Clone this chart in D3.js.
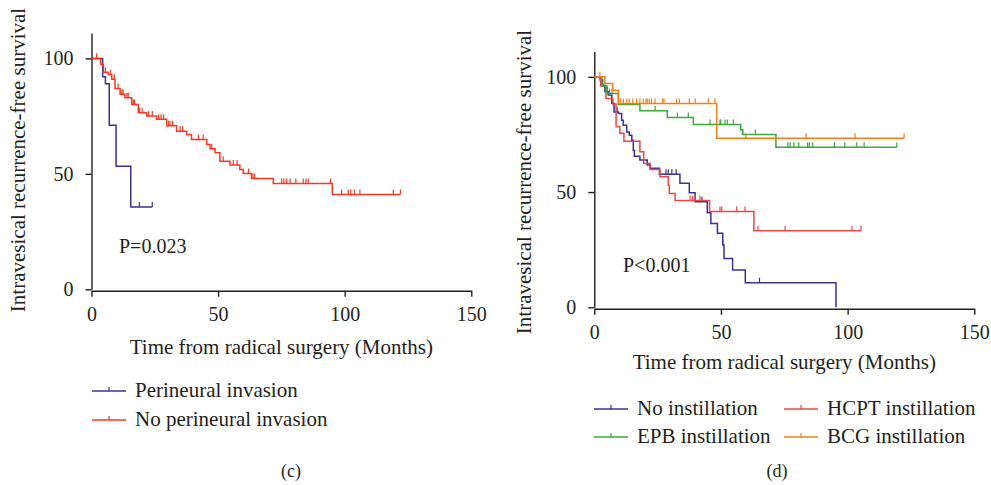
<!DOCTYPE html>
<html>
<head>
<meta charset="utf-8">
<script src="https://cdn.jsdelivr.net/npm/d3@7"></script>
<style>
  body { margin: 0; background: #fff; }
  svg text { font-family: "Liberation Serif", "Times New Roman", serif; fill: #231f20; }
</style>
</head>
<body>
<svg width="991" height="485"></svg>
<script>
// Data
const xTicks = [0, 50, 100, 150];
const yTicks = [0, 50, 100];

// panel (c)
const perineuralTimes = [4.4, 5.5, 7, 9.7, 15.5];
const perineuralSurv = [92, 89, 71, 53.3, 35.6];
const perineuralEnd = 24;
const perineuralCensor = [18.9, 24];

const noPerineuralTimes = [3.6, 4.7, 6.6, 8, 9.3, 11.3, 13.2, 15.9, 18.5, 21.8, 25.7, 29.7, 33.6, 37.6, 39.5, 45.5, 46.8, 48.8, 50.7, 54.7, 58.6, 59.9, 63.2, 71.8, 95.1];
const noPerineuralSurv = [97.5, 94, 93, 91, 87, 84.5, 83, 80, 76.5, 75, 73.6, 70.8, 68.5, 67, 64.9, 62.7, 60.9, 59.1, 55.5, 53.8, 51.9, 50.1, 48, 45.8, 41.1];
const noPerineuralEnd = 122;
const noPerineuralCensor = [2, 5.5, 7.5, 9, 10.5, 12, 12.5, 14, 14.5, 16.5, 17, 19, 20, 22.5, 24, 26.5, 27.5, 28.5, 30.5, 31, 32, 35, 36, 42.2, 44.1, 47.5, 52, 56, 57.5, 62, 63.8, 64.5, 75.1, 76, 77.1, 78.4, 80.7, 83.6, 84.7, 85.6, 94.4, 98.8, 101.4, 102.4, 103.8, 106, 119.2, 122];

// panel (d)
const noInstTimes = [2.3, 3.3, 4.2, 5.5, 6.9, 7.8, 9.5, 10.8, 11.4, 12.8, 13.8, 14.8, 15.4, 15.8, 18, 20.9, 22, 25.7, 33.8, 37.5, 39.8, 44.6, 46, 48.6, 50.7, 51.2, 54.6, 59.6, 95.4];
const noInstSurv = [98.6, 96.4, 93.5, 92.1, 88.5, 84.8, 84.1, 81.2, 79, 76.1, 74.7, 72.5, 68.2, 65.6, 63.9, 61.7, 60.3, 57.7, 53.8, 49.7, 45.8, 41, 36.4, 32.1, 27, 21.2, 16.2, 10.7, 0];
const noInstEnd = 95.4;
const noInstCensor = [4.5, 5, 9, 21, 28.3, 29.2, 30.6, 32.3, 42.5, 50.7, 65.2];

const hcptTimes = [2.5, 4.6, 7.3, 8.6, 10.1, 11.7, 18, 19.5, 22, 25.9, 29.2, 29.6, 31.9, 45.5, 63];
const hcptSurv = [96, 90.6, 88.2, 78.3, 75.5, 72.1, 67.5, 62.4, 59.8, 56.6, 53, 49.4, 46.3, 41.6, 33.2];
const hcptEnd = 105.3;
const hcptCensor = [37.8, 38.8, 39.8, 41.7, 49.6, 50.3, 56.2, 59.5, 64.6, 75.3, 101.7, 105.3];

const epbTimes = [3, 5, 9.5, 18, 28.8, 39.1, 57.8, 58.5, 71.7];
const epbSurv = [96, 92.8, 88, 85.3, 82.4, 79.3, 77, 75, 69.5];
const epbEnd = 119.4;
const epbCensor = [6, 7, 24, 32.8, 37.1, 45.7, 49.6, 49.9, 51.6, 52.5, 54.9, 58.6, 63.6, 76.4, 77.3, 78.8, 80.7, 84.2, 84.9, 86.2, 94.8, 98.9, 103.6, 106.5, 119.4];

const bcgTimes = [4.2, 7.3, 9.5, 48.3];
const bcgSurv = [97.1, 94.2, 88.4, 73.4];
const bcgEnd = 122.3;
const bcgCensor = [2.2, 10.4, 11.5, 12.8, 13.8, 15.2, 16.7, 18, 19.3, 20.4, 20.9, 21.7, 22.6, 24, 27, 27.5, 32.5, 33.6, 37.5, 39.8, 45, 47.6, 59.8, 83.6, 102.9, 122.3];

const colNavy = "#3b3190";
const colRedC = "#ee3a26";
const colRedD = "#e84848";
const colGreen = "#3aaa3a";
const colOrange = "#f08019";

const yLabel = "Intravesical recurrence-free survival";
const xLabel = "Time from radical surgery (Months)";

let svg = d3.select("svg");

function makePanel(cfg) {
  let xScale = d3.scaleLinear().domain([0, 150]).range([cfg.x0, cfg.x1]);
  let yScale = d3.scaleLinear().domain([0, 111]).range([cfg.y0, cfg.yTop]);
  let g = svg.append("g");

  // axes
  let xAxis = d3.axisBottom(xScale).tickValues(xTicks).tickSize(6).tickSizeOuter(0).tickPadding(6);
  let gx = g.append("g")
    .attr("transform", "translate(0," + (cfg.y0 + 1.5) + ")")
    .call(xAxis);
  let yAxis = d3.axisLeft(yScale).tickValues(yTicks).tickSize(6).tickSizeOuter(0).tickPadding(12);
  let gy = g.append("g")
    .attr("transform", "translate(" + cfg.x0 + ",0)")
    .call(yAxis);
  [gx, gy].forEach(a => {
    a.select(".domain").attr("stroke", "#231f20").attr("stroke-width", 1.4);
    a.selectAll(".tick line").attr("stroke", "#231f20").attr("stroke-width", 1.4);
    a.selectAll(".tick text").attr("font-size", 20).attr("fill", "#231f20")
      .style("font-family", "Liberation Serif, serif");
  });
  gx.selectAll(".tick text").attr("dy", "0.9em");

  // curves
  let line = d3.line()
    .x(d => xScale(d[0]))
    .y(d => yScale(d[1]))
    .curve(d3.curveStepAfter);

  cfg.series.forEach(s => {
    let pts = [[0, 100]];
    s.times.forEach((t, i) => pts.push([t, s.surv[i]]));
    pts.push([s.end, s.surv[s.surv.length - 1]]);
    g.append("path")
      .attr("d", line(pts))
      .attr("fill", "none")
      .attr("stroke", s.color)
      .attr("stroke-width", 1.5);

    let survAt = t => {
      let v = 100;
      s.times.forEach((tt, i) => { if (tt <= t) v = s.surv[i]; });
      return v;
    };
    g.selectAll(null)
      .data(s.censor)
      .enter()
      .append("line")
      .attr("x1", d => xScale(d))
      .attr("x2", d => xScale(d))
      .attr("y1", d => yScale(survAt(d)))
      .attr("y2", d => yScale(survAt(d)) - 5)
      .attr("stroke", s.color)
      .attr("stroke-width", 1.2);
  });

  // labels
  g.append("text")
    .attr("transform", "translate(" + cfg.ylx + "," + cfg.yly + ") rotate(-90)")
    .attr("text-anchor", "middle")
    .attr("font-size", 21)
    .text(yLabel);
  g.append("text")
    .attr("x", (cfg.x0 + cfg.x1) / 2)
    .attr("y", cfg.xlY)
    .attr("text-anchor", "middle")
    .attr("font-size", 21)
    .text(xLabel);
  g.append("text")
    .attr("x", cfg.pX)
    .attr("y", cfg.pY)
    .attr("font-size", 20)
    .text(cfg.pText);

  // legend
  cfg.series.forEach((s, i) => {
    let lx = cfg.legX + (i % cfg.legCols) * cfg.legColW;
    let ly = cfg.legY + Math.floor(i / cfg.legCols) * cfg.legRowH;
    g.append("line")
      .attr("x1", lx).attr("x2", lx + 34)
      .attr("y1", ly).attr("y2", ly)
      .attr("stroke", s.color).attr("stroke-width", 1.5);
    g.append("line")
      .attr("x1", lx + 17).attr("x2", lx + 17)
      .attr("y1", ly).attr("y2", ly - 4)
      .attr("stroke", s.color).attr("stroke-width", 1.2);
    g.append("text")
      .attr("x", lx + 43)
      .attr("y", ly + 6)
      .attr("font-size", 21)
      .text(s.name);
  });

  g.append("text")
    .attr("x", cfg.tagX)
    .attr("y", 477)
    .attr("text-anchor", "middle")
    .attr("font-size", 18)
    .text(cfg.tag);
}

makePanel({
  x0: 91.5, x1: 471.3, y0: 289.3, yTop: 33,
  ylx: 25, yly: 160, xlY: 354,
  pX: 119, pY: 253, pText: "P=0.023",
  legX: 92, legY: 391, legCols: 1, legColW: 0, legRowH: 29,
  tagX: 291, tag: "(c)",
  series: [
    { name: "Perineural invasion", color: colNavy, times: perineuralTimes, surv: perineuralSurv, end: perineuralEnd, censor: perineuralCensor },
    { name: "No perineural invasion", color: colRedC, times: noPerineuralTimes, surv: noPerineuralSurv, end: noPerineuralEnd, censor: noPerineuralCensor }
  ]
});

makePanel({
  x0: 594.3, x1: 974.3, y0: 307.3, yTop: 51.5,
  ylx: 531, yly: 182, xlY: 369,
  pX: 623, pY: 272, pText: "P<0.001",
  legX: 594, legY: 409, legCols: 2, legColW: 190, legRowH: 28,
  tagX: 777, tag: "(d)",
  series: [
    { name: "No instillation", color: colNavy, times: noInstTimes, surv: noInstSurv, end: noInstEnd, censor: noInstCensor },
    { name: "HCPT instillation", color: colRedD, times: hcptTimes, surv: hcptSurv, end: hcptEnd, censor: hcptCensor },
    { name: "EPB instillation", color: colGreen, times: epbTimes, surv: epbSurv, end: epbEnd, censor: epbCensor },
    { name: "BCG instillation", color: colOrange, times: bcgTimes, surv: bcgSurv, end: bcgEnd, censor: bcgCensor }
  ]
});
</script>
</body>
</html>
